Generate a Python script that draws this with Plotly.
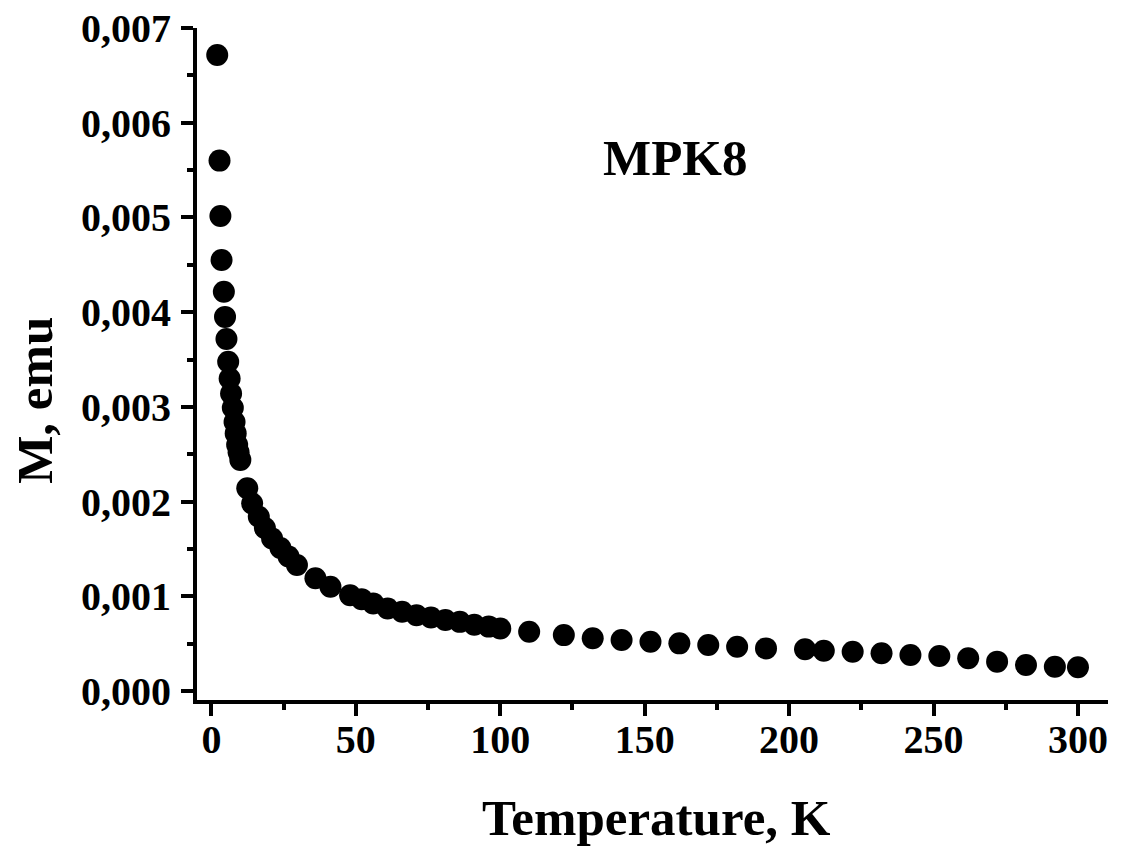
import plotly.graph_objects as go

temperature_K = [2.0, 2.8, 3.1, 3.5, 4.3, 4.7, 5.2, 5.8, 6.3, 6.8, 7.4, 8.0, 8.4, 8.9, 9.4, 10.0,
                 12.4, 14.1, 16.4, 18.5, 21.0, 23.9, 26.7, 29.6, 36.0, 41.2, 48.0, 52.0, 56.0,
                 61.0, 66.0, 71.0, 76.0, 81.0, 86.0, 91.0, 96.0, 100.0, 110.0, 122.0, 132.0,
                 142.0, 152.0, 162.0, 172.0, 182.0, 192.0, 205.5, 212.0, 222.0, 232.0, 242.0,
                 252.0, 262.0, 272.0, 282.0, 292.0, 300.0]
moment_emu = [0.006715, 0.0056, 0.005015, 0.00455, 0.004216, 0.00395, 0.003717, 0.003477,
              0.0033, 0.00314, 0.00299, 0.00284, 0.00272, 0.0026, 0.00252, 0.00244,
              0.00214, 0.00198, 0.00184, 0.00172, 0.00161, 0.00151, 0.00142, 0.00133,
              0.00119, 0.0011, 0.00101, 0.00097, 0.000925, 0.000872, 0.000837, 0.0008,
              0.000777, 0.00075, 0.00073, 0.0007, 0.00068, 0.00066, 0.000626, 0.00059,
              0.000556, 0.000538, 0.00052, 0.000503, 0.000485, 0.000467, 0.00045, 0.00044,
              0.000425, 0.000415, 0.000398, 0.00038, 0.000369, 0.000345, 0.00031, 0.000274,
              0.000256, 0.00025]
x_ticks = [0, 50, 100, 150, 200, 250, 300]
y_ticks = [0.000, 0.001, 0.002, 0.003, 0.004, 0.005, 0.006, 0.007]
sample_label = "MPK8"
x_title = "Temperature, K"
y_title = "M, emu"

FONT = "Liberation Serif"
TITLE_FONT = dict(family=FONT, size=51, color="black", weight="bold")
TICK_FONT = dict(family=FONT, size=40, color="black", weight="bold")

fig = go.Figure()
fig.add_trace(go.Scatter(
    x=temperature_K, y=moment_emu, mode="markers",
    marker=dict(color="black", size=22, line=dict(width=0)),
    showlegend=False,
))

fig.add_annotation(
    x=160.5, y=0.00563, xref="x", yref="y", text=sample_label, showarrow=False,
    font=TITLE_FONT,
)
fig.add_annotation(
    x=0.504, y=-0.1756, xref="paper", yref="paper", text=x_title, showarrow=False,
    xanchor="center", yanchor="middle", font=TITLE_FONT,
)
fig.add_annotation(
    x=-0.178, y=0.4464, xref="paper", yref="paper", text=y_title, showarrow=False,
    xanchor="center", yanchor="middle", textangle=-90, font=TITLE_FONT,
)

fig.update_layout(
    width=1116, height=843,
    margin=dict(l=189, r=16, t=20, b=151, autoexpand=False),
    paper_bgcolor="white", plot_bgcolor="white",
    separators=", ",
    font=dict(family=FONT, color="black", weight="bold"),
)

fig.update_xaxes(
    range=[-5, 310.4], tickvals=x_ticks, ticktext=[str(v) for v in x_ticks],
    showgrid=False, zeroline=False, automargin=False,
    showline=True, linewidth=4, linecolor="black",
    ticks="outside", ticklen=12, tickwidth=4, tickcolor="black",
    minor=dict(dtick=25, tick0=0, ticks="outside", ticklen=6, tickwidth=4, tickcolor="black"),
    tickfont=TICK_FONT, ticklabelstandoff=-11, ticklabeloverflow="allow",
)
fig.update_yaxes(
    range=[-0.000095, 0.007], tickvals=y_ticks, tickformat=".3f",
    showgrid=False, zeroline=False, automargin=False,
    showline=True, linewidth=4, linecolor="black",
    ticks="outside", ticklen=12, tickwidth=4, tickcolor="black",
    minor=dict(dtick=0.0005, tick0=0, ticks="outside", ticklen=6, tickwidth=4, tickcolor="black"),
    tickfont=TICK_FONT, ticklabelstandoff=2, ticklabeloverflow="allow",
)

fig.write_html("out.html")
